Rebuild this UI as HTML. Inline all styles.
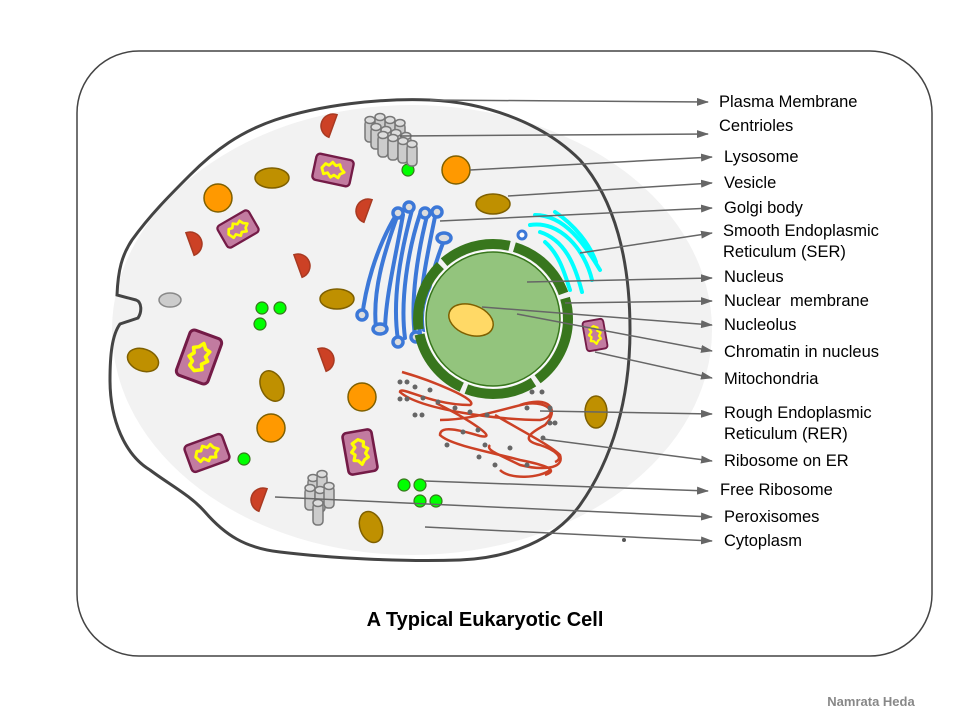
<!DOCTYPE html>
<html><head><meta charset="utf-8"><style>
html,body{margin:0;padding:0;background:#fff;}
svg{display:block;}
text{font-family:"Liberation Sans",Arial,sans-serif;}
</style></head><body>
<svg width="960" height="720" viewBox="0 0 960 720" xmlns="http://www.w3.org/2000/svg">
<defs>
<marker id="ar" markerWidth="12" markerHeight="8" refX="11" refY="4" orient="auto" markerUnits="userSpaceOnUse">
<path d="M0,0 L12,4 L0,8 Z" fill="#666"/></marker>
<g id="mito">
<rect x="-20" y="-14" width="40" height="28" rx="4" fill="#c27ba0" stroke="#741b47" stroke-width="2.5"/>
<path d="M-12,0 L-9,-5 L-5,-4 L-2,-8 L2,-5 L6,-7 L8,-3 L12,0 L8,3 L7,7 L2,5 L-1,8 L-5,4 L-9,6 Z" fill="#c27ba0" stroke="#ffff00" stroke-width="3" stroke-linejoin="round"/>
</g>
<path id="perox" d="M0,-12 A12,12 0 0 1 0,12 Z" fill="#cc4125" stroke="#a83a22" stroke-width="1.5"/>
<g id="cyl"><rect x="-5" y="0" width="10" height="22" rx="4" fill="#ccc" stroke="#777" stroke-width="1.5"/><ellipse cx="0" cy="0" rx="5" ry="3.5" fill="#ddd" stroke="#777" stroke-width="1.5"/></g>
</defs>

<rect x="77" y="51" width="855" height="605" rx="62" fill="#fff" stroke="#444" stroke-width="1.5"/>
<ellipse cx="412" cy="330" rx="300" ry="225" fill="#f2f2f2"/>
<path d="M430,100 C480,102 540,120 580,160 C615,200 630,260 630,330 C630,400 612,460 580,505 C555,540 510,558 460,560 C400,562 330,558 280,552 C245,548 225,535 205,512 C190,495 170,485 150,470 C125,455 110,420 110,380 C110,355 112,335 120,324 L138,318 C142,312 142,302 136,300 L117,295 C118,270 122,255 132,240 C150,215 170,195 190,175 C215,150 240,132 275,120 C320,105 380,98 430,100 Z" fill="none" stroke="#444" stroke-width="3"/>

<!-- peroxisomes -->
<use href="#perox" transform="translate(333,126) rotate(200)"/>
<use href="#perox" transform="translate(368,211) rotate(200)"/>
<use href="#perox" transform="translate(190,244) rotate(-20)"/>
<use href="#perox" transform="translate(298,266) rotate(-20)"/>
<use href="#perox" transform="translate(322,360) rotate(-20)"/>
<use href="#perox" transform="translate(263,500) rotate(200)"/>
<!-- vesicles -->
<g fill="#bf9000" stroke="#7f6000" stroke-width="1.5">
<ellipse cx="272" cy="178" rx="17" ry="10"/>
<ellipse cx="493" cy="204" rx="17" ry="10"/>
<ellipse cx="337" cy="299" rx="17" ry="10"/>
<ellipse cx="143" cy="360" rx="16" ry="11" transform="rotate(20 143 360)"/>
<ellipse cx="272" cy="386" rx="11" ry="16" transform="rotate(-25 272 386)"/>
<ellipse cx="371" cy="527" rx="11" ry="16" transform="rotate(-20 371 527)"/>
<ellipse cx="596" cy="412" rx="11" ry="16"/>
</g>
<!-- lysosomes -->
<g fill="#ff9900" stroke="#7f6000" stroke-width="1.5">
<circle cx="218" cy="198" r="14"/><circle cx="456" cy="170" r="14"/>
<circle cx="362" cy="397" r="14"/><circle cx="271" cy="428" r="14"/>
</g>
<ellipse cx="170" cy="300" rx="11" ry="7" fill="#ccc" stroke="#888" stroke-width="1.5"/>
<!-- mitochondria -->
<use href="#mito" transform="translate(333,170) rotate(12) scale(0.95)"/>
<use href="#mito" transform="translate(238,229) rotate(-30) scale(0.9)"/>
<use href="#mito" transform="translate(199,357) rotate(-70) scale(1.2)"/>
<use href="#mito" transform="translate(207,453) rotate(-20)"/>
<use href="#mito" transform="translate(360,452) rotate(80) scale(1.05)"/>
<use href="#mito" transform="translate(595,335) rotate(80) scale(0.75)"/>
<!-- free ribosomes -->
<g fill="#00ff00" stroke="#38761d" stroke-width="1.2">
<circle cx="262" cy="308" r="6"/><circle cx="280" cy="308" r="6"/><circle cx="260" cy="324" r="6"/>
<circle cx="408" cy="170" r="6"/><circle cx="404" cy="485" r="6"/><circle cx="420" cy="485" r="6"/>
<circle cx="420" cy="501" r="6"/><circle cx="436" cy="501" r="6"/><circle cx="244" cy="459" r="6"/>
</g>
<!-- centrioles -->
<g>
<use href="#cyl" x="370" y="120"/><use href="#cyl" x="380" y="117"/><use href="#cyl" x="390" y="120"/><use href="#cyl" x="400" y="123"/>
<use href="#cyl" x="376" y="127"/><use href="#cyl" x="386" y="130"/><use href="#cyl" x="396" y="133"/><use href="#cyl" x="406" y="136"/>
<use href="#cyl" x="383" y="135"/><use href="#cyl" x="393" y="138"/><use href="#cyl" x="403" y="141"/><use href="#cyl" x="412" y="144"/>
<use href="#cyl" x="313" y="478"/><use href="#cyl" x="322" y="474"/><use href="#cyl" x="310" y="488"/>
<use href="#cyl" x="320" y="490"/><use href="#cyl" x="329" y="486"/><use href="#cyl" x="318" y="503"/>
</g>
<!-- golgi -->
<g fill="none" stroke="#3c78d8" stroke-width="4" stroke-linecap="round">
<path d="M396,215 C375,250 365,290 362,318"/>
<path d="M398,214 C385,250 372,290 376,328"/>
<path d="M403,215 C395,260 385,300 385,332"/>
<path d="M412,210 C400,255 392,300 398,340"/>
<path d="M420,214 C408,250 400,300 405,338"/>
<path d="M428,212 C418,250 410,300 415,336"/>
<path d="M436,212 C426,260 418,300 420,335"/>
<path d="M445,238 C432,270 425,300 424,330"/>
</g>
<g fill="#ddd" stroke="#3c78d8" stroke-width="3.5">
<circle cx="398" cy="213" r="5"/><circle cx="409" cy="207" r="5"/><circle cx="425" cy="213" r="5"/><circle cx="437" cy="212" r="5"/>
<ellipse cx="444" cy="238" rx="7" ry="5"/><circle cx="362" cy="315" r="5"/><ellipse cx="380" cy="329" rx="7" ry="5"/>
<circle cx="398" cy="342" r="5"/><circle cx="416" cy="337" r="5"/>
</g>
<!-- SER -->
<g fill="none" stroke="#00ffff" stroke-width="4" stroke-linecap="round">
<path d="M530,225 C560,220 585,250 592,280"/>
<path d="M535,215 C565,215 585,245 600,270"/>
<path d="M540,232 C565,240 575,265 582,292"/>
<path d="M545,242 C560,255 565,275 570,290"/>
<path d="M555,212 C575,225 590,245 596,262"/>
</g>
<circle cx="522" cy="235" r="4" fill="#fff" stroke="#3c78d8" stroke-width="3"/>
<!-- RER -->
<g fill="none" stroke="#cc4125" stroke-width="2.5">
<path d="M402,372 C430,380 480,400 470,405 C430,405 400,385 400,392 C420,410 500,420 540,420 C560,416 550,400 525,404 C500,410 470,420 440,420"/>
<path d="M436,403 C470,420 500,440 480,436 C460,430 440,425 440,435 C450,445 490,452 520,460 C545,465 560,470 545,475"/>
<path d="M495,415 C520,430 550,445 560,455 C565,470 540,470 520,465 C500,455 485,450 490,445"/>
<path d="M520,405 C550,395 560,410 545,425 C530,433 520,440 540,445 C555,450 565,458 555,462"/>
<path d="M500,470 C510,480 540,478 550,470"/>
</g>
<g fill="#666">
<circle cx="400" cy="382" r="2.5"/><circle cx="407" cy="382" r="2.5"/><circle cx="415" cy="387" r="2.5"/><circle cx="430" cy="390" r="2.5"/>
<circle cx="400" cy="399" r="2.5"/><circle cx="407" cy="399" r="2.5"/><circle cx="423" cy="398" r="2.5"/><circle cx="438" cy="402" r="2.5"/>
<circle cx="415" cy="415" r="2.5"/><circle cx="422" cy="415" r="2.5"/><circle cx="455" cy="408" r="2.5"/><circle cx="470" cy="412" r="2.5"/>
<circle cx="487" cy="415" r="2.5"/><circle cx="463" cy="432" r="2.5"/><circle cx="478" cy="430" r="2.5"/><circle cx="527" cy="408" r="2.5"/>
<circle cx="550" cy="408" r="2.5"/><circle cx="550" cy="423" r="2.5"/><circle cx="555" cy="423" r="2.5"/><circle cx="543" cy="438" r="2.5"/>
<circle cx="447" cy="445" r="2.5"/><circle cx="485" cy="445" r="2.5"/><circle cx="510" cy="448" r="2.5"/><circle cx="479" cy="457" r="2.5"/>
<circle cx="495" cy="465" r="2.5"/><circle cx="527" cy="465" r="2.5"/><circle cx="532" cy="392" r="2.5"/><circle cx="542" cy="392" r="2.5"/>
</g>
<!-- nucleus -->
<circle cx="493" cy="319" r="75" fill="none" stroke="#38761d" stroke-width="10" stroke-dasharray="70 5"/>
<circle cx="493" cy="319" r="69" fill="#fff"/>
<circle cx="493" cy="319" r="67" fill="#93c47d" stroke="#38761d" stroke-width="1.5"/>
<ellipse cx="471" cy="320" rx="23" ry="15" transform="rotate(20 471 320)" fill="#ffd966" stroke="#7f6000" stroke-width="1.5"/>

<!-- connectors -->
<g stroke="#666" stroke-width="1.5" fill="none" marker-end="url(#ar)">
<line x1="430" y1="100" x2="708" y2="102"/>
<line x1="400" y1="136" x2="708" y2="134"/>
<line x1="470" y1="170" x2="712" y2="157"/>
<line x1="508" y1="196" x2="712" y2="183"/>
<line x1="440" y1="221" x2="712" y2="208"/>
<line x1="580" y1="253" x2="712" y2="233"/>
<line x1="527" y1="282" x2="712" y2="278"/>
<line x1="565" y1="303" x2="712" y2="301"/>
<line x1="482" y1="307" x2="712" y2="325"/>
<line x1="517" y1="314" x2="712" y2="351"/>
<line x1="595" y1="352" x2="712" y2="378"/>
<line x1="540" y1="411" x2="712" y2="414"/>
<line x1="543" y1="439" x2="712" y2="461"/>
<line x1="425" y1="481" x2="708" y2="491"/>
<line x1="275" y1="497" x2="712" y2="517"/>
<line x1="425" y1="527" x2="712" y2="541"/>
</g>
<circle cx="624" cy="540" r="2" fill="#555"/>

<g font-size="16.5" fill="#000">
<text x="719" y="107">Plasma Membrane</text>
<text x="719" y="131">Centrioles</text>
<text x="724" y="162">Lysosome</text>
<text x="724" y="188">Vesicle</text>
<text x="724" y="213">Golgi body</text>
<text x="723" y="236">Smooth Endoplasmic</text>
<text x="723" y="257">Reticulum (SER)</text>
<text x="724" y="282">Nucleus</text>
<text x="724" y="306" xml:space="preserve">Nuclear  membrane</text>
<text x="724" y="330">Nucleolus</text>
<text x="724" y="357">Chromatin in nucleus</text>
<text x="724" y="384">Mitochondria</text>
<text x="724" y="418">Rough Endoplasmic</text>
<text x="724" y="439">Reticulum (RER)</text>
<text x="724" y="466">Ribosome on ER</text>
<text x="720" y="495">Free Ribosome</text>
<text x="724" y="522">Peroxisomes</text>
<text x="724" y="546">Cytoplasm</text>
</g>
<text x="485" y="626" font-size="20" font-weight="bold" text-anchor="middle">A Typical Eukaryotic Cell</text>
<text x="871" y="706" font-size="13" font-weight="bold" fill="#888" text-anchor="middle" font-family="Liberation Mono, monospace">Namrata Heda</text>
</svg>
</body></html>
